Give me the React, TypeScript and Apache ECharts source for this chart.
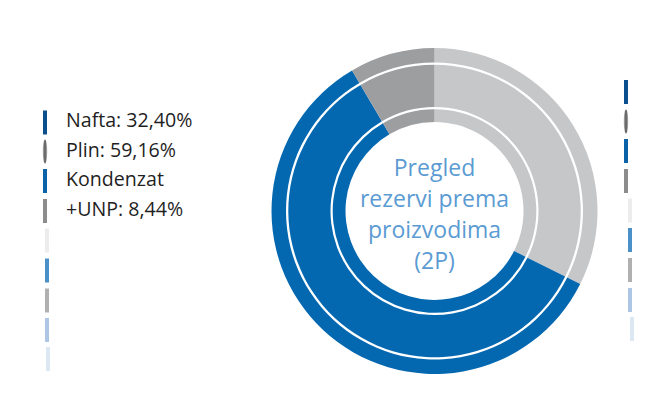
import React, { useEffect, useRef } from "react";
import * as echarts from "echarts";

const categories = ["Nafta", "Plin", "Kondenzat\n+UNP"];
const shares = [32.4, 59.16, 8.44];
const centerTitle = ["Pregled", "rezervi prema", "proizvodima", "(2P)"];

const sliceColors = ["#c6c7c9", "#0468b1", "#9d9ea0"];
const markerColors = ["#0b4f8e", "ellipse", "#0a63a8", "#8c8c8c", "#ececec", "#4a90c9", "#b0b0b0", "#adc6e5", "#dde7f3"];

function fmt(v: number) {
  return v.toFixed(2).replace(".", ",") + "%";
}

function marker(color: string, x: number, y: number): any {
  if (color === "ellipse") {
    return {
      type: "ellipse",
      shape: { cx: x + 2, cy: y + 12, rx: 2.2, ry: 12 },
      style: {
        fill: new echarts.graphic.LinearGradient(0, 0, 1, 0, [
          { offset: 0, color: "#b8b8b8" },
          { offset: 0.5, color: "#555555" },
          { offset: 1, color: "#b8b8b8" },
        ]),
      },
      silent: true,
    };
  }
  return { type: "rect", shape: { x, y, width: 4, height: 24 }, style: { fill: color }, silent: true };
}

export default function App() {
  const ref = useRef<HTMLDivElement>(null);
  useEffect(() => {
    document.body.style.margin = "0";
    const chart = echarts.init(ref.current!, null, { renderer: "svg" });
    const data = categories.map((name, i) => ({
      name,
      value: shares[i],
      itemStyle: { color: sliceColors[i] },
    }));
    const center = [434.5, 211];
    const rings: [number, number][] = [
      [148.5, 163],
      [104, 146.2],
      [89, 101.8],
    ];
    const series = rings.map((r) => ({
      type: "pie",
      center,
      radius: r,
      startAngle: 90,
      clockwise: true,
      silent: true,
      label: { show: false },
      labelLine: { show: false },
      itemStyle: { borderWidth: 0 },
      data,
    }));

    const leftY = [110.5, 139.5, 169, 199, 228.5, 258.5, 288.5, 318, 347];
    const leftX = [43, 43, 43, 43, 45, 45, 45, 45, 46];
    const rightY = [80, 109.5, 139, 169, 198.5, 228, 258, 288, 317];
    const rightX = [624, 624, 624, 624, 628, 628, 628, 628, 630];
    const graphics: any[] = [];
    markerColors.forEach((c, i) => {
      graphics.push(marker(c, leftX[i], leftY[i]));
      graphics.push(marker(c, rightX[i], rightY[i]));
    });
    const legendText = categories.map((n, i) => n + ": " + fmt(shares[i])).join("\n");
    graphics.push({
      type: "text",
      x: 66,
      y: 105,
      silent: true,
      style: {
        text: legendText,
        font: "19.6px 'Open Sans'",
        fill: "#1f1f1f",
        lineHeight: 29.5,
        textAlign: "left",
        textVerticalAlign: "top",
      },
    });
    graphics.push({
      type: "text",
      x: center[0],
      y: 213,
      silent: true,
      style: {
        text: centerTitle.join("\n"),
        font: "23px 'Open Sans'",
        fill: "#5b9bd3",
        lineHeight: 31,
        textAlign: "center",
        textVerticalAlign: "middle",
      },
    });

    chart.setOption({
      animation: false,
      backgroundColor: "#ffffff",
      series,
      graphic: graphics,
    });
    return () => chart.dispose();
  }, []);
  return <div ref={ref} style={{ width: 653, height: 414 }} />;
}
